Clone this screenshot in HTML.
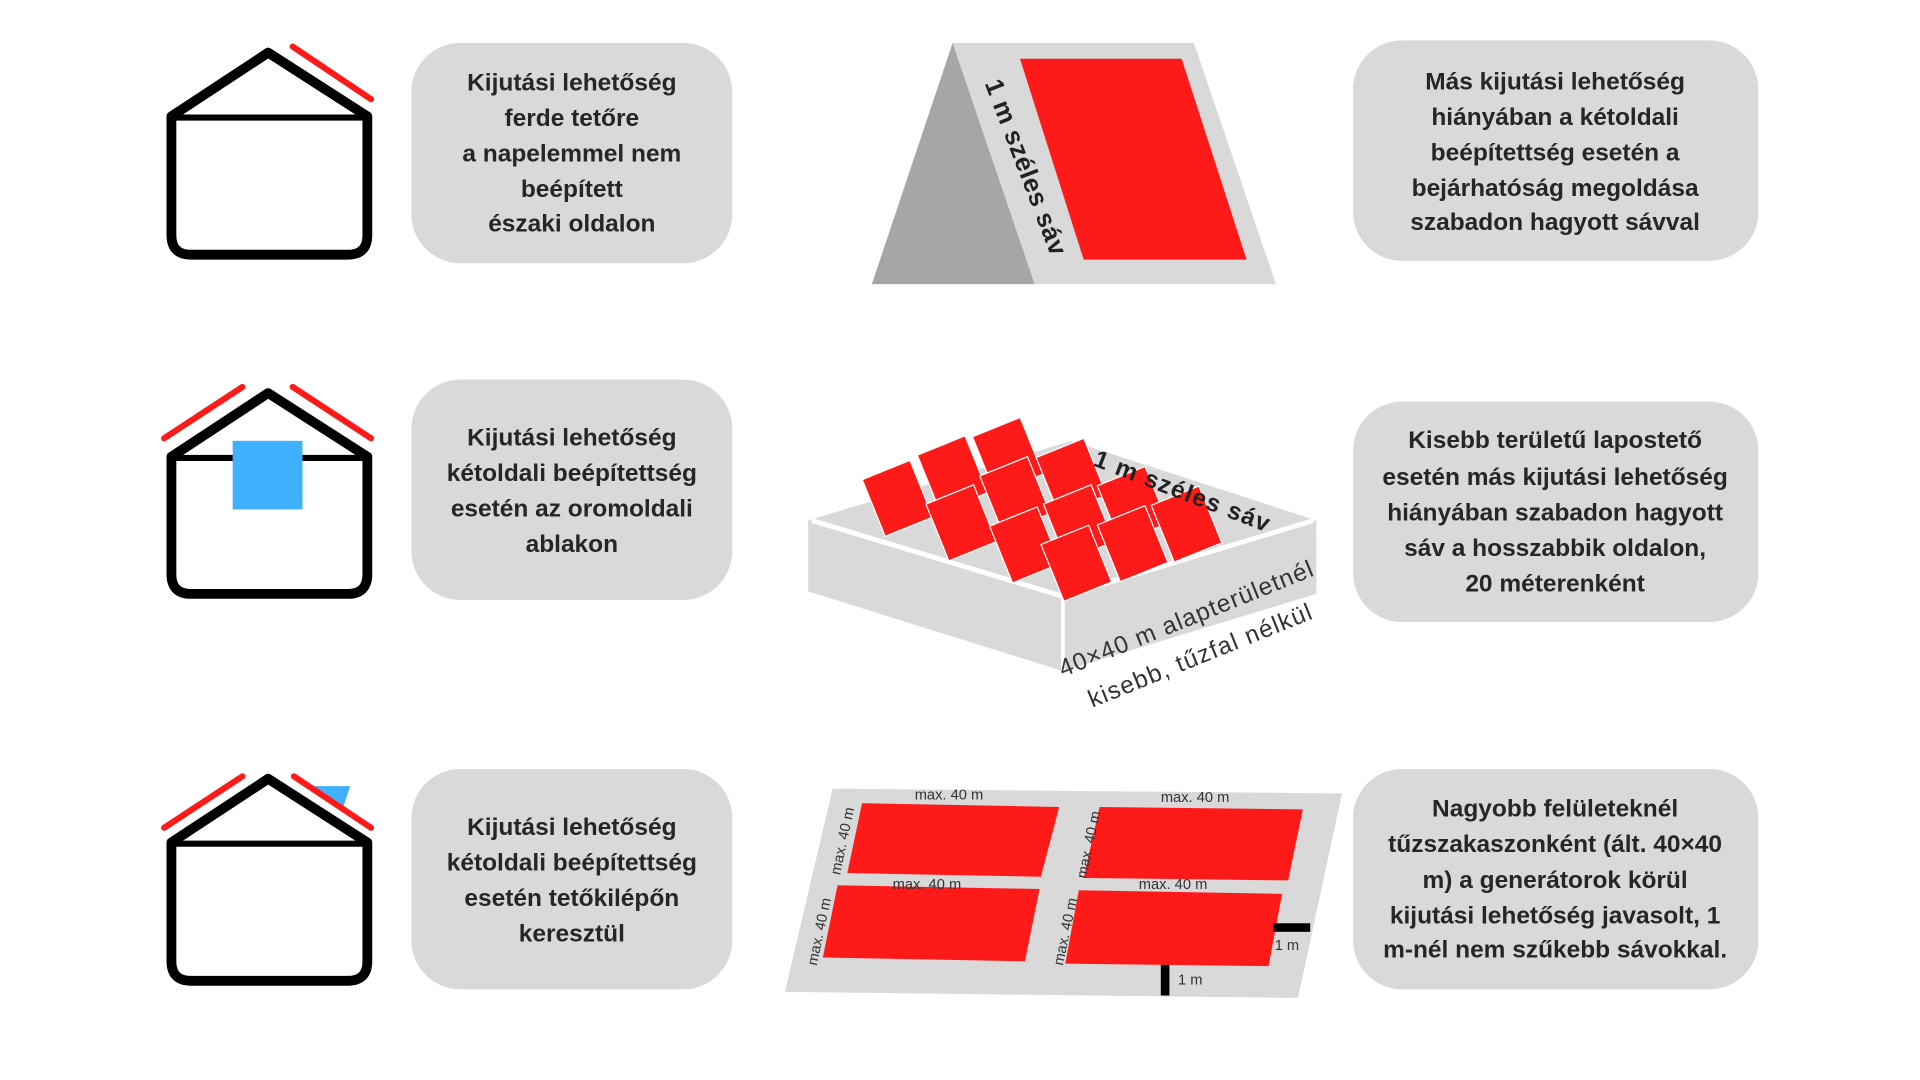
<!DOCTYPE html>
<html><head><meta charset="utf-8"><style>html,body{margin:0;padding:0;background:#fff}svg{display:block}</style></head>
<body>
<svg width="1920" height="1080" viewBox="0 0 1568 882" xmlns="http://www.w3.org/2000/svg" font-family="Liberation Sans, sans-serif">
<rect width="1568" height="882" fill="#fff"/>
<g fill="none" stroke="#000" stroke-linejoin="round" stroke-linecap="round">
 <path d="M140 95 L219 43 L300 95 L300 192 Q300 208 284 208 L156 208 Q140 208 140 192 Z" stroke-width="8"/>
 <line x1="142" y1="96" x2="298" y2="96" stroke-width="5"/>
 <path d="M140 373 L219 321 L300 373 L300 469 Q300 485 284 485 L156 485 Q140 485 140 469 Z" stroke-width="8"/>
 <line x1="142" y1="374" x2="298" y2="374" stroke-width="5"/>
 <path d="M140 688 L219 636 L300 688 L300 785 Q300 801 284 801 L156 801 Q140 801 140 785 Z" stroke-width="8"/>
 <line x1="142" y1="689" x2="298" y2="689" stroke-width="5"/>
</g>
<rect x="190" y="360" width="57" height="56" fill="#3eb0ff"/>
<polygon points="256,642 286,642 280,660" fill="#3eb0ff"/>
<g stroke="#ff1a1a" stroke-width="5" stroke-linecap="round">
 <line x1="239" y1="38" x2="303" y2="81"/>
 <line x1="134" y1="358" x2="198" y2="316"/>
 <line x1="239" y1="316" x2="303" y2="358"/>
 <line x1="134" y1="676" x2="198" y2="634"/>
 <line x1="240" y1="634" x2="303" y2="676"/>
</g>
<g fill="#d9d9d9">
 <rect x="336" y="35" width="262" height="180" rx="40"/>
 <rect x="336" y="310" width="262" height="180" rx="40"/>
 <rect x="336" y="628" width="262" height="180" rx="40"/>
 <rect x="1105" y="33" width="331" height="180" rx="40"/>
 <rect x="1105" y="328" width="331" height="180" rx="40"/>
 <rect x="1105" y="628" width="331" height="180" rx="40"/>
</g>
<g font-size="20" font-weight="bold" fill="#262626" text-anchor="middle">
 <text x="467" y="74">Kijutási lehetőség</text>
 <text x="467" y="103">ferde tetőre</text>
 <text x="467" y="132">a napelemmel nem</text>
 <text x="467" y="161">beépített</text>
 <text x="467" y="189">északi oldalon</text>
 <text x="467" y="364">Kijutási lehetőség</text>
 <text x="467" y="393">kétoldali beépítettség</text>
 <text x="467" y="422">esetén az oromoldali</text>
 <text x="467" y="451">ablakon</text>
 <text x="467" y="682">Kijutási lehetőség</text>
 <text x="467" y="711">kétoldali beépítettség</text>
 <text x="467" y="740">esetén tetőkilépőn</text>
 <text x="467" y="769">keresztül</text>
 <text x="1270" y="73">Más kijutási lehetőség</text>
 <text x="1270" y="102">hiányában a kétoldali</text>
 <text x="1270" y="131">beépítettség esetén a</text>
 <text x="1270" y="160">bejárhatóság megoldása</text>
 <text x="1270" y="188">szabadon hagyott sávval</text>
 <text x="1270" y="366">Kisebb területű lapostető</text>
 <text x="1270" y="396">esetén más kijutási lehetőség</text>
 <text x="1270" y="425">hiányában szabadon hagyott</text>
 <text x="1270" y="454">sáv a hosszabbik oldalon,</text>
 <text x="1270" y="483">20 méterenként</text>
 <text x="1270" y="667">Nagyobb felületeknél</text>
 <text x="1270" y="696">tűzszakaszonként (ált. 40×40</text>
 <text x="1270" y="725">m) a generátorok körül</text>
 <text x="1270" y="754">kijutási lehetőség javasolt, 1</text>
 <text x="1270" y="782">m-nél nem szűkebb sávokkal.</text>
</g>
<polygon points="712,232 778,35 845,232" fill="#a6a6a6"/>
<polygon points="778,35 975,35 1042,232 845,232" fill="#d9d9d9"/>
<polygon points="833,48 965,48 1018,212 885,212" fill="#ff1a1a"/>
<text transform="translate(804,68) rotate(69)" font-size="21" font-weight="bold" fill="#222" textLength="152">1 m széles sáv</text>
<polygon points="660,425 868,488 868,548 660,483" fill="#d9d9d9"/>
<polygon points="868,488 1075,425 1075,485 868,548" fill="#d9d9d9"/>
<polygon points="660,425 875,360 1075,425 868,488" fill="#d9d9d9"/>
<polyline points="663,425 868,487 1073,425" fill="none" stroke="#fff" stroke-width="4"/>
<line x1="868" y1="487" x2="868" y2="548" stroke="#fff" stroke-width="3"/>
<g fill="#ff1a1a" stroke="#fff" stroke-width="1">
 <rect x="-21" y="-25" width="42" height="50" transform="translate(733,407) rotate(-22)"/>
 <rect x="-21" y="-25" width="42" height="50" transform="translate(778,387) rotate(-22)"/>
 <rect x="-21" y="-25" width="42" height="50" transform="translate(823,372) rotate(-22)"/>
 <rect x="-21" y="-25" width="42" height="50" transform="translate(785,427) rotate(-22)"/>
 <rect x="-21" y="-25" width="42" height="50" transform="translate(829,404) rotate(-22)"/>
 <rect x="-21" y="-25" width="42" height="50" transform="translate(875,389) rotate(-22)"/>
 <rect x="-21" y="-25" width="42" height="50" transform="translate(837,445) rotate(-22)"/>
 <rect x="-21" y="-25" width="42" height="50" transform="translate(881,427) rotate(-22)"/>
 <rect x="-21" y="-25" width="42" height="50" transform="translate(925,412) rotate(-22)"/>
 <rect x="-21" y="-25" width="42" height="50" transform="translate(879,460) rotate(-22)"/>
 <rect x="-21" y="-25" width="42" height="50" transform="translate(925,444) rotate(-22)"/>
 <rect x="-21" y="-25" width="42" height="50" transform="translate(969,428) rotate(-22)"/>
</g>
<text transform="translate(892,380) rotate(21)" font-size="20" font-weight="bold" fill="#222" textLength="152">1 m széles sáv</text>
<text transform="translate(868,553) rotate(-22)" font-size="20" fill="#333" textLength="222">40×40 m alapterületnél</text>
<text transform="translate(892,578) rotate(-22)" font-size="20" fill="#333" textLength="195">kisebb, tűzfal nélkül</text>
<polygon points="680,644 1096,648 1060,815 641,810" fill="#d9d9d9"/>
<g fill="#ff1a1a">
 <polygon points="704,656 865,659 850,716 692,713"/>
 <polygon points="898,659 1064,661 1052,719 885,717"/>
 <polygon points="684,723 849,726 837,785 672,782"/>
 <polygon points="881,727 1047,730 1036,789 870,787"/>
</g>
<rect x="948" y="788" width="7" height="25" fill="#000"/>
<rect x="1040" y="754" width="30" height="7" fill="#000"/>
<g font-size="12" fill="#333">
 <text x="747" y="653">max. 40 m</text>
 <text x="948" y="655">max. 40 m</text>
 <text x="729" y="726">max. 40 m</text>
 <text x="930" y="726">max. 40 m</text>
 <text x="962" y="804">1 m</text>
 <text x="1041" y="776">1 m</text>
 <text transform="translate(686,715) rotate(-78)">max. 40 m</text>
 <text transform="translate(887,718) rotate(-78)">max. 40 m</text>
 <text transform="translate(667,789) rotate(-78)">max. 40 m</text>
 <text transform="translate(868,789) rotate(-78)">max. 40 m</text>
</g>
</svg>
</body></html>
